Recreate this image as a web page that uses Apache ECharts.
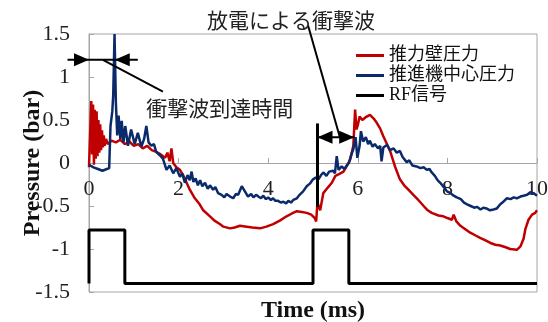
<!DOCTYPE html>
<html>
<head>
<meta charset="utf-8">
<script src="https://cdn.jsdelivr.net/npm/echarts@6/dist/echarts.min.js"></script>
<style>
  html, body { margin: 0; padding: 0; background: #fff; }
  #chart { width: 548px; height: 322px; }
</style>
</head>
<body>
<div id="chart"></div>
<script>
// Time axis (ms) and pressure axis (bar)
const xTicks = [0, 2, 4, 6, 8, 10];
const yTicks = [-1.5, -1, -0.5, 0, 0.5, 1, 1.5];

const seriesNames = ['推力壁圧力', '推進機中心圧力', 'RF信号'];

// Thrust-wall pressure [ms, bar]
const thrustWall = [
  [0,-0.05],[0.03,-0.06],[0.05,0.72],[0.07,0.1],[0.09,0.68],[0.11,-0.02],[0.13,0.62],[0.15,0.05],
  [0.17,0.6],[0.19,0.08],[0.21,0.5],[0.23,0.12],[0.25,0.45],[0.27,0.15],[0.29,0.38],[0.31,0.18],
  [0.33,0.32],[0.35,0.2],[0.38,0.28],[0.42,0.22],[0.5,0.26],[0.6,0.24],[0.7,0.27],[0.8,0.22],
  [0.9,0.25],[1.0,0.2],[1.1,0.22],[1.2,0.17],[1.3,0.2],[1.4,0.15],[1.5,0.13],[1.6,0.1],[1.7,0.06],
  [1.75,0.12],[1.8,0.02],[1.84,0.17],[1.88,0.0],[1.95,-0.05],[2.03,-0.08],[2.1,-0.14],[2.25,-0.31],
  [2.35,-0.4],[2.47,-0.48],[2.55,-0.55],[2.7,-0.62],[2.8,-0.67],[2.92,-0.71],[3.0,-0.74],[3.15,-0.76],
  [3.25,-0.75],[3.37,-0.73],[3.52,-0.74],[3.65,-0.75],[3.82,-0.76],[3.96,-0.74],[4.11,-0.71],[4.26,-0.67],
  [4.41,-0.62],[4.52,-0.59],[4.64,-0.56],[4.75,-0.57],[4.86,-0.58],[4.96,-0.6],[5.04,-0.64],[5.07,-0.68],
  [5.1,-0.46],[5.16,-0.55],[5.23,-0.35],[5.27,-0.37],[5.34,-0.28],[5.42,-0.23],[5.5,-0.15],[5.58,-0.13],
  [5.68,-0.1],[5.75,-0.04],[5.83,0.04],[5.9,0.2],[5.94,0.62],[5.97,0.39],[6.0,0.44],[6.04,0.54],
  [6.1,0.5],[6.17,0.53],[6.27,0.56],[6.35,0.52],[6.42,0.47],[6.5,0.4],[6.57,0.31],[6.65,0.22],
  [6.72,0.14],[6.83,-0.04],[6.94,-0.19],[7.05,-0.27],[7.15,-0.32],[7.24,-0.37],[7.35,-0.43],[7.47,-0.5],
  [7.56,-0.55],[7.65,-0.58],[7.8,-0.61],[7.91,-0.62],[8.0,-0.64],[8.1,-0.66],[8.14,-0.6],[8.2,-0.68],
  [8.29,-0.73],[8.4,-0.77],[8.51,-0.81],[8.62,-0.84],[8.73,-0.87],[8.85,-0.9],[8.96,-0.93],[9.07,-0.95],
  [9.18,-0.96],[9.3,-0.98],[9.4,-1.0],[9.55,-1.01],[9.63,-0.97],[9.7,-0.88],[9.74,-0.77],[9.81,-0.66],
  [9.89,-0.6],[9.96,-0.58],[10,-0.55]
];

// Thruster-centre pressure [ms, bar]
const thrusterCenter = [
  [0,-0.02],[0.1,-0.05],[0.2,-0.07],[0.3,-0.09],[0.4,-0.07],[0.45,-0.06],[0.48,0.43],[0.52,0.6],
  [0.54,0.78],[0.57,1.5],[0.6,0.7],[0.63,0.32],[0.66,0.55],[0.7,0.28],[0.73,0.49],[0.77,0.24],
  [0.81,0.43],[0.87,0.2],[0.94,0.39],[1.02,0.22],[1.09,0.35],[1.17,0.19],[1.23,0.28],[1.28,0.43],
  [1.33,0.24],[1.39,0.2],[1.45,0.22],[1.5,0.13],[1.58,0.09],[1.65,0.05],[1.73,-0.08],[1.8,-0.03],
  [1.88,-0.12],[1.95,-0.06],[2.03,-0.16],[2.08,-0.12],[2.14,-0.23],[2.2,-0.14],[2.25,-0.2],[2.29,-0.1],
  [2.33,-0.22],[2.38,-0.18],[2.43,-0.26],[2.48,-0.2],[2.53,-0.27],[2.59,-0.23],[2.65,-0.3],[2.7,-0.26],
  [2.77,-0.31],[2.82,-0.28],[2.88,-0.35],[2.96,-0.37],[3.02,-0.4],[3.07,-0.36],[3.15,-0.39],[3.22,-0.41],
  [3.28,-0.36],[3.33,-0.37],[3.41,-0.27],[3.48,-0.33],[3.55,-0.39],[3.62,-0.36],[3.67,-0.4],[3.73,-0.37],
  [3.78,-0.39],[3.84,-0.41],[3.89,-0.38],[3.95,-0.42],[4.0,-0.4],[4.06,-0.43],[4.11,-0.41],[4.16,-0.44],
  [4.22,-0.44],[4.28,-0.46],[4.34,-0.45],[4.4,-0.47],[4.45,-0.44],[4.51,-0.46],[4.56,-0.43],[4.64,-0.41],
  [4.7,-0.37],[4.78,-0.33],[4.86,-0.27],[4.93,-0.24],[5.0,-0.19],[5.06,-0.17],[5.12,-0.19],[5.18,-0.14],
  [5.23,-0.11],[5.3,-0.15],[5.36,-0.1],[5.45,-0.09],[5.49,-0.12],[5.53,0.08],[5.57,-0.08],[5.64,-0.04],
  [5.7,-0.07],[5.75,-0.03],[5.8,0.0],[5.87,0.12],[5.9,0.16],[5.95,0.3],[5.99,0.06],[6.04,0.2],[6.07,0.37],
  [6.12,0.25],[6.18,0.3],[6.23,0.22],[6.27,0.26],[6.33,0.19],[6.38,0.22],[6.45,0.17],[6.5,0.2],[6.53,0.02],
  [6.57,0.18],[6.65,0.21],[6.72,0.15],[6.8,0.17],[6.87,0.12],[6.94,0.14],[7.0,0.07],[7.09,0.01],[7.15,0.03],
  [7.22,-0.03],[7.31,-0.04],[7.4,-0.06],[7.47,-0.05],[7.54,-0.08],[7.6,-0.07],[7.65,-0.11],[7.72,-0.15],
  [7.78,-0.2],[7.84,-0.23],[7.92,-0.28],[7.99,-0.33],[8.07,-0.35],[8.14,-0.38],[8.21,-0.4],[8.3,-0.42],
  [8.37,-0.46],[8.44,-0.48],[8.52,-0.5],[8.6,-0.52],[8.66,-0.51],[8.74,-0.54],[8.8,-0.52],[8.88,-0.53],
  [8.95,-0.55],[9.03,-0.54],[9.1,-0.53],[9.18,-0.48],[9.25,-0.45],[9.33,-0.41],[9.41,-0.42],[9.48,-0.4],
  [9.55,-0.41],[9.63,-0.39],[9.7,-0.38],[9.78,-0.37],[9.85,-0.34],[9.92,-0.35],[10,-0.38]
];

// RF gate signal (plotted on the pressure scale)
const rfSignal = [
  [0,-1.4],[0,-0.78],[0.8,-0.78],[0.8,-1.4],[5.0,-1.4],[5.0,-0.78],[5.8,-0.78],[5.8,-1.4],[10,-1.4]
];

// Annotation anchors in data units [ms, bar]
const arrivalY = 1.2;
const arrivalFrom = 0;       // discharge start
const arrivalTo = 0.575;     // shock reaches the thruster centre
const shockMarkerT = 5.1;
const shockArrowY = 0.3;
const shockArrowTo = 5.92;

const serif = '"Liberation Serif", "Times New Roman", "Noto Sans CJK JP", serif';
const cjk = '"Noto Sans CJK JP", sans-serif';

const gridTop = 34, gridBottom = 30, chartH = 322;
// the time axis is drawn across the zero pressure line
const yMin = yTicks[0], yMax = yTicks[yTicks.length - 1];
const plotH = chartH - gridTop - gridBottom;
const zeroOffset = -plotH * (0 - yMin) / (yMax - yMin);

const chart = echarts.init(document.getElementById('chart'));

chart.setOption({
  animation: false,
  backgroundColor: '#fff',
  grid: {
    left: 89, right: 11, top: gridTop, bottom: gridBottom,
    containLabel: false,
    outerBoundsMode: 'none',
    show: true, borderColor: '#a6a6a6', borderWidth: 1, backgroundColor: 'transparent'
  },
  legend: {
    data: seriesNames,
    orient: 'vertical',
    left: 356, top: 46,
    padding: 0,
    icon: 'rect',
    itemWidth: 28, itemHeight: 3,
    itemGap: 1,
    textStyle: { fontFamily: serif, fontSize: 18, color: '#111', lineHeight: 19 }
  },
  xAxis: {
    type: 'value',
    position: 'bottom',
    offset: zeroOffset,
    min: xTicks[0], max: xTicks[xTicks.length - 1], interval: 2,
    name: 'Time (ms)',
    nameLocation: 'middle',
    nameGap: 136,
    nameMoveOverlap: false,
    nameTextStyle: { fontFamily: serif, fontSize: 24, fontWeight: 'bold', color: '#111' },
    axisLine: { onZero: false, lineStyle: { color: '#a6a6a6', width: 1 } },
    axisTick: { show: true, inside: true, length: 5, lineStyle: { color: '#a6a6a6' } },
    axisLabel: { fontFamily: serif, fontSize: 22, color: '#222', margin: 15 },
    splitLine: { show: false }
  },
  yAxis: {
    type: 'value',
    min: yMin, max: yMax, interval: 0.5,
    name: 'Pressure (bar)',
    nameLocation: 'middle',
    nameRotate: 90,
    nameGap: 44,
    nameMoveOverlap: false,
    nameTextStyle: { fontFamily: serif, fontSize: 24, fontWeight: 'bold', color: '#111' },
    axisLine: { show: true, onZero: false, lineStyle: { color: '#a6a6a6', width: 1 } },
    axisTick: { show: true, inside: true, length: 5, lineStyle: { color: '#a6a6a6' } },
    axisLabel: { fontFamily: serif, fontSize: 22, color: '#222', margin: 19, showMinLabel: true, showMaxLabel: true },
    splitLine: { show: false }
  },
  series: [
    {
      name: seriesNames[0], type: 'line', data: thrustWall, showSymbol: false,
      lineStyle: { color: '#c00000', width: 2.5 }, itemStyle: { color: '#c00000' }, z: 2
    },
    {
      name: seriesNames[1], type: 'line', data: thrusterCenter, showSymbol: false,
      lineStyle: { color: '#0b2a6b', width: 2.5 }, itemStyle: { color: '#0b2a6b' }, z: 3
    },
    {
      name: seriesNames[2], type: 'line', data: rfSignal, showSymbol: false,
      lineStyle: { color: '#000', width: 3 }, itemStyle: { color: '#000' }, z: 4
    }
  ]
});

// Annotations: arrows and captions placed through the axes' own scales
const px = (t, v) => chart.convertToPixel({ gridIndex: 0 }, [t, v]);

function arrowHead(tip, dir) {
  const L = 15, h = 6.5;
  return {
    type: 'polygon',
    shape: { points: [[tip[0], tip[1]], [tip[0] - dir * L, tip[1] - h], [tip[0] - dir * L, tip[1] + h]] },
    style: { fill: '#000' }, z: 20
  };
}
function seg(a, b, w) {
  return {
    type: 'line',
    shape: { x1: a[0], y1: a[1], x2: b[0], y2: b[1] },
    style: { stroke: '#000', lineWidth: w }, z: 20
  };
}

const a0 = px(arrivalFrom, arrivalY);
const a1 = px(arrivalTo, arrivalY);
const s0 = px(shockMarkerT, shockArrowY);
const s1 = px(shockArrowTo, shockArrowY);

chart.setOption({
  graphic: [
    // shock arrival time span
    seg(px(-0.48, arrivalY), px(1.09, arrivalY), 2),
    arrowHead(a0, 1),
    arrowHead(a1, -1),
    seg(px(0.31, arrivalY), px(1.65, 0.83), 2),
    {
      type: 'text', z: 20,
      style: {
        text: '衝撃波到達時間', x: px(2.92, 0.645)[0], y: px(2.92, 0.645)[1],
        align: 'center', verticalAlign: 'middle',
        font: '21px ' + cjk, fill: '#222'
      }
    },
    // discharge shock marker
    seg(px(shockMarkerT, 0.46), px(shockMarkerT, -0.51), 3),
    seg(s0, s1, 2),
    arrowHead(s0, -1),
    arrowHead(s1, 1),
    seg(px(4.89, 1.6), px(5.6, shockArrowY), 2),
    {
      type: 'text', z: 20,
      style: {
        text: '放電による衝撃波', x: px(4.51, 1.66)[0], y: px(4.51, 1.66)[1],
        align: 'center', verticalAlign: 'middle',
        font: '21px ' + cjk, fill: '#222'
      }
    }
  ]
});
</script>
</body>
</html>
